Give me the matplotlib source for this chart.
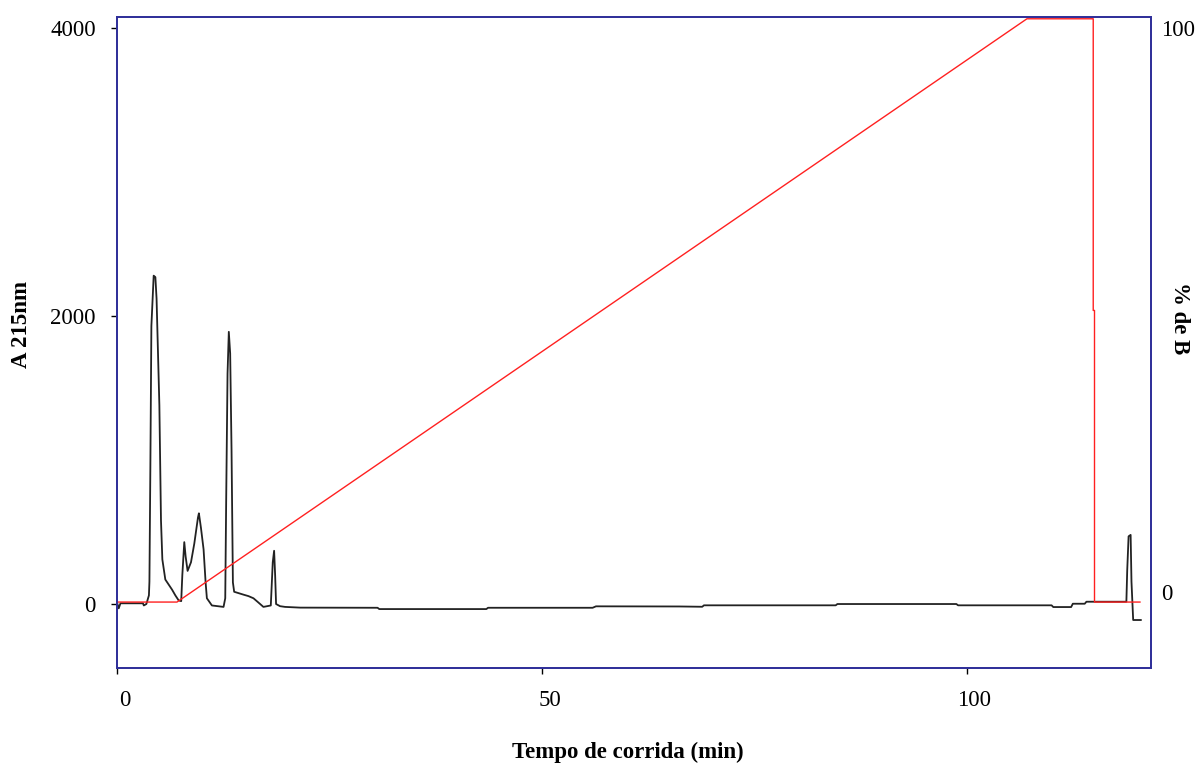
import matplotlib
matplotlib.use('Agg')
import matplotlib.pyplot as plt
import matplotlib.transforms as mtransforms

plt.rcParams['font.family'] = ['Liberation Serif', 'DejaVu Serif']

# Cromatograma (A 215nm)
tempo = [0.0, 0.15, 0.35, 3.0, 3.1, 3.4, 3.7, 3.76, 3.87, 3.99, 4.26, 4.46, 4.6,
         4.93, 5.12, 5.28, 5.63, 6.42, 6.81, 7.2, 7.5, 7.63, 7.86, 8.02, 8.25,
         8.65, 9.04, 9.47, 9.58, 9.82, 10.13, 10.37, 10.52, 11.11, 12.48, 12.68,
         12.79, 12.95, 13.1, 13.26, 13.42, 13.58, 13.73, 14.83, 15.41, 16.0,
         16.59, 17.17, 18.04, 18.27, 18.43, 18.55, 18.66, 19.13, 19.72, 21.5,
         30.6, 30.8, 43.4, 43.6, 55.9, 56.3, 66.1, 68.8, 69.0, 84.5, 84.7, 98.7,
         98.9, 109.9, 110.1, 112.2, 112.4, 113.8, 114.0, 118.7, 118.8, 118.96,
         119.2, 119.3, 119.5, 120.4]
absorb = [0, -30, 5, 5, -10, 0, 60, 155, 950, 1930, 2280, 2270, 2120,
          1380, 580, 310, 170, 100, 60, 25, 20, 200, 430, 330, 230,
          290, 420, 600, 630, 530, 380, 150, 40, -10, -20, 40,
          720, 1600, 1890, 1740, 1070, 150, 85, 65, 55, 40,
          10, -20, -10, 290, 370, 200, 0, -15, -20, -25,
          -26, -35, -35, -26, -26, -16, -17, -19, -9, -9, 0, 0,
          -9, -9, -21, -21, 2, 2, 16, 16, 236, 470,
          480, 155, -111, -111]

# Gradiente (% de B)
tempo_grad = [0, 7, 107, 114.8, 114.8, 114.95, 114.95, 120.3]
perc_b = [0, 0, 100, 100, 50, 50, 0, 0]

azul = '#30309a'

fig = plt.figure(figsize=(11.95, 7.64), dpi=100)
ax = fig.add_axes([0.0983, 0.1257, 0.8649, 0.852])
ax2 = ax.twinx()

ax.plot(tempo, absorb, color='#222222', lw=1.3)
ax2.plot(tempo_grad, perc_b, color='#ff2020', lw=1.0)

ax.set_xlim(0, 121.6)
ax.set_ylim(-444, 4076)
ax2.set_ylim(-11.3, 100.3)

ax.set_xticks([0, 50, 100])
ax.set_yticks([0, 2000, 4000])
ax2.set_yticks([0, 100])

for a in (ax, ax2):
    for s in a.spines.values():
        s.set_color(azul)
        s.set_linewidth(1.3)

ax.tick_params(axis='both', labelsize=16.5, direction='out', length=4,
               width=1, color='black')
ax.tick_params(axis='y', pad=11.5)
ax.tick_params(axis='x', pad=12)
ax2.tick_params(axis='y', labelsize=16.5, length=0, pad=7)

# deslocamentos das etiquetas como no original
off = mtransforms.ScaledTranslation(0.07, 0, fig.dpi_scale_trans)
for lbl in ax.get_xticklabels():
    lbl.set_transform(lbl.get_transform() + off)
r_labels = ax2.get_yticklabels()
r_labels[0].set_transform(r_labels[0].get_transform() +
                          mtransforms.ScaledTranslation(0, 0.10, fig.dpi_scale_trans))
r_labels[1].set_transform(r_labels[1].get_transform() +
                          mtransforms.ScaledTranslation(0, -0.09, fig.dpi_scale_trans))

fig.text(0.5255, 0.0157, 'Tempo de corrida (min)', ha='center', va='center',
         fontsize=16.5, fontweight='bold')
fig.text(0.018, 0.575, 'A 215nm', rotation=90, ha='center', va='center',
         fontsize=16.5, fontweight='bold')
fig.text(0.987, 0.583, '% de B', rotation=270, ha='center', va='center',
         fontsize=16.5, fontweight='bold')

fig.savefig('out.png', dpi=100)
